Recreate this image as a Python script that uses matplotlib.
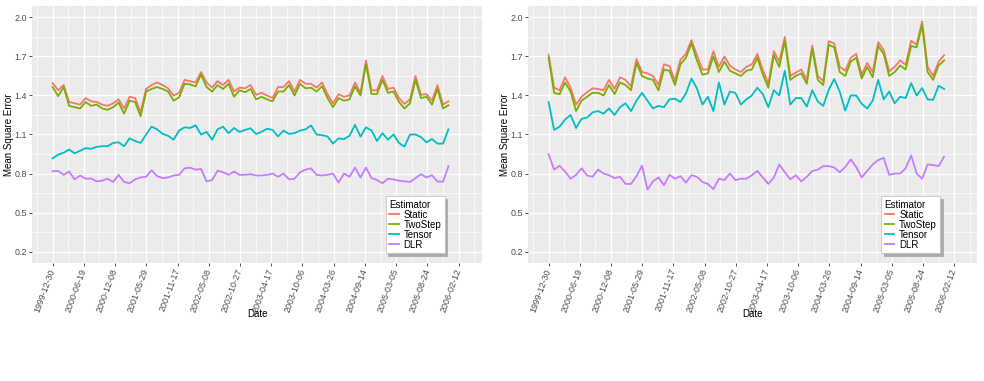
import numpy as np
import pandas as pd
import matplotlib
matplotlib.use("Agg")
import matplotlib.pyplot as plt

plt.rcParams['font.family'] = ['Liberation Sans', 'DejaVu Sans']

# ---------------- data ----------------
dates = pd.date_range("1999-12-30", "2005-12-18", periods=73)

tick_labels = ["1999-12-30", "2000-06-19", "2000-12-08", "2001-05-29", "2001-11-17",
               "2002-05-08", "2002-10-27", "2003-04-17", "2003-10-06", "2004-03-26",
               "2004-09-14", "2005-03-05", "2005-08-24", "2006-02-12"]
y_ticks = [0.2, 0.5, 0.8, 1.1, 1.4, 1.7, 2.0]

series_names = ["Static", "TwoStep", "Tensor", "DLR"]
series_colors = ["#F8766D", "#7CAE00", "#00BFC4", "#C77CFF"]

left_static = [1.495, 1.44, 1.48, 1.35, 1.34, 1.33, 1.38, 1.355, 1.35, 1.33, 1.32, 1.34, 1.37, 1.30, 1.39, 1.38, 1.27, 1.45, 1.48,
               1.50, 1.48, 1.455, 1.40, 1.42, 1.52, 1.51, 1.50, 1.58, 1.50, 1.46, 1.51, 1.48, 1.52, 1.43, 1.46, 1.455,
               1.48, 1.405, 1.42, 1.40, 1.38, 1.465, 1.465, 1.51, 1.43, 1.52, 1.49, 1.49, 1.46, 1.50, 1.41, 1.34, 1.41,
               1.39, 1.40, 1.50, 1.42, 1.67, 1.44, 1.44, 1.55, 1.45, 1.46, 1.38, 1.335, 1.37, 1.55, 1.405, 1.41, 1.36,
               1.48, 1.33, 1.355]
left_twostep = [1.465, 1.395, 1.465, 1.32, 1.31, 1.30, 1.35, 1.32, 1.33, 1.30, 1.29, 1.31, 1.345, 1.26, 1.36, 1.35, 1.24, 1.43, 1.45,
                1.465, 1.45, 1.43, 1.36, 1.385, 1.49, 1.485, 1.47, 1.56, 1.465, 1.43, 1.48, 1.45, 1.49, 1.39, 1.44, 1.425,
                1.45, 1.37, 1.39, 1.37, 1.355, 1.43, 1.43, 1.48, 1.40, 1.49, 1.455, 1.46, 1.43, 1.47, 1.38, 1.31, 1.38,
                1.36, 1.37, 1.47, 1.40, 1.64, 1.41, 1.41, 1.52, 1.42, 1.43, 1.35, 1.30, 1.34, 1.52, 1.38, 1.39, 1.33,
                1.45, 1.30, 1.325]
left_tensor = [0.917, 0.945, 0.96, 0.985, 0.955, 0.975, 0.995, 0.99, 1.005, 1.01, 1.01, 1.035, 1.04, 1.01, 1.07, 1.05, 1.035,
               1.10, 1.16, 1.14, 1.105, 1.09, 1.06, 1.13, 1.155, 1.15, 1.17, 1.10, 1.12, 1.06, 1.14, 1.16, 1.11, 1.15, 1.12,
               1.135, 1.148, 1.104, 1.12, 1.145, 1.135, 1.085, 1.13, 1.105, 1.11, 1.13, 1.14, 1.17, 1.10, 1.095, 1.085,
               1.03, 1.07, 1.065, 1.09, 1.174, 1.084, 1.156, 1.13, 1.05, 1.11, 1.06, 1.10, 1.035, 1.007, 1.10, 1.10,
               1.08, 1.04, 1.065, 1.03, 1.03, 1.14]
left_dlr = [0.818, 0.82, 0.79, 0.815, 0.755, 0.785, 0.76, 0.762, 0.74, 0.745, 0.76, 0.735, 0.79, 0.735, 0.725, 0.755, 0.77,
            0.775, 0.825, 0.78, 0.765, 0.77, 0.785, 0.79, 0.84, 0.845, 0.83, 0.835, 0.74, 0.75, 0.822, 0.81, 0.79, 0.815,
            0.79, 0.79, 0.795, 0.785, 0.785, 0.79, 0.80, 0.775, 0.80, 0.755, 0.76, 0.81, 0.83, 0.84, 0.79, 0.785, 0.79,
            0.80, 0.73, 0.80, 0.775, 0.846, 0.77, 0.846, 0.765, 0.75, 0.725, 0.76, 0.755, 0.745, 0.74, 0.735, 0.765,
            0.795, 0.77, 0.787, 0.738, 0.738, 0.856]

right_static = [1.714, 1.46, 1.44, 1.54, 1.46, 1.33, 1.39, 1.425, 1.455, 1.45, 1.44, 1.52, 1.45, 1.54, 1.52, 1.47, 1.68,
                1.58, 1.57, 1.55, 1.48, 1.64, 1.625, 1.515, 1.675, 1.72, 1.825, 1.71, 1.60, 1.60, 1.74, 1.62, 1.70, 1.63,
                1.60, 1.58, 1.62, 1.64, 1.72, 1.595, 1.49, 1.74, 1.66, 1.85, 1.55, 1.575, 1.60, 1.52, 1.784, 1.55, 1.51,
                1.817, 1.80, 1.62, 1.59, 1.69, 1.72, 1.56, 1.65, 1.58, 1.81, 1.75, 1.585, 1.62, 1.67, 1.636, 1.82, 1.79,
                1.97, 1.62, 1.55, 1.66, 1.71]
right_twostep = [1.69, 1.42, 1.41, 1.50, 1.43, 1.28, 1.36, 1.39, 1.42, 1.42, 1.40, 1.48, 1.41, 1.50, 1.48, 1.44, 1.65,
                 1.55, 1.53, 1.52, 1.44, 1.60, 1.59, 1.48, 1.64, 1.69, 1.80, 1.67, 1.56, 1.57, 1.70, 1.58, 1.66, 1.59,
                 1.57, 1.55, 1.59, 1.60, 1.69, 1.56, 1.46, 1.71, 1.62, 1.82, 1.52, 1.55, 1.57, 1.49, 1.76, 1.52, 1.48,
                 1.79, 1.77, 1.58, 1.55, 1.66, 1.69, 1.53, 1.62, 1.54, 1.78, 1.72, 1.55, 1.58, 1.63, 1.60, 1.78, 1.77,
                 1.94, 1.58, 1.52, 1.63, 1.67]
right_tensor = [1.349, 1.135, 1.16, 1.215, 1.25, 1.15, 1.22, 1.23, 1.27, 1.28, 1.26, 1.30, 1.25, 1.31, 1.34, 1.28, 1.36,
                1.42, 1.36, 1.30, 1.32, 1.31, 1.37, 1.375, 1.35, 1.415, 1.53, 1.455, 1.33, 1.39, 1.28, 1.50, 1.33, 1.43,
                1.42, 1.33, 1.37, 1.40, 1.46, 1.41, 1.31, 1.44, 1.40, 1.59, 1.33, 1.38, 1.38, 1.315, 1.44, 1.354, 1.32,
                1.444, 1.526, 1.43, 1.284, 1.40, 1.40, 1.336, 1.30, 1.36, 1.52, 1.37, 1.43, 1.34, 1.39, 1.38, 1.495, 1.40,
                1.457, 1.37, 1.366, 1.475, 1.45]
right_dlr = [0.949, 0.83, 0.86, 0.815, 0.76, 0.79, 0.84, 0.785, 0.775, 0.83, 0.80, 0.787, 0.765, 0.775, 0.72, 0.72, 0.78,
             0.86, 0.677, 0.74, 0.77, 0.71, 0.79, 0.76, 0.78, 0.73, 0.787, 0.775, 0.735, 0.72, 0.68, 0.76, 0.75, 0.80,
             0.75, 0.76, 0.76, 0.787, 0.82, 0.77, 0.72, 0.77, 0.87, 0.81, 0.755, 0.787, 0.74, 0.775, 0.82, 0.83, 0.857,
             0.857, 0.846, 0.81, 0.85, 0.908, 0.85, 0.77, 0.82, 0.87, 0.903, 0.92, 0.79, 0.80, 0.80, 0.84, 0.94, 0.80,
             0.76, 0.87, 0.865, 0.857, 0.93]

panels = [
    [left_static, left_twostep, left_tensor, left_dlr],
    [right_static, right_twostep, right_tensor, right_dlr],
]

# ---------------- figure ----------------
W, H = 984, 381
fig = plt.figure(figsize=(W / 100, H / 100), dpi=100)

axes_rects = [
    [32.3 / W, (H - 263.3) / H, 449.4 / W, 257.6 / H],
    [528.3 / W, (H - 263.3) / H, 449.0 / W, 257.6 / H],
]

tick_dates = pd.to_datetime(tick_labels)
xmin = pd.Timestamp("1999-12-30") - pd.Timedelta(days=112)
xmax = pd.Timestamp("2006-02-12") + pd.Timedelta(days=127)

for rect, vals in zip(axes_rects, panels):
    ax = fig.add_axes(rect)
    ax.set_facecolor("#EBEBEB")
    for s in ax.spines.values():
        s.set_visible(False)

    for name, col, v in zip(series_names, series_colors, vals):
        ax.plot(dates, v, color=col, lw=1.3, label=name, solid_joinstyle="round")

    ax.set_xlim(xmin, xmax)
    ax.set_ylim(0.11, 2.09)
    ax.set_xticks(tick_dates)
    ax.set_xticklabels(tick_labels, rotation=70, ha="right", va="center",
                       rotation_mode="anchor")
    minor_x = tick_dates[:-1] + (tick_dates[1:] - tick_dates[:-1]) / 2
    minor_x = list(minor_x) + [tick_dates[0] - pd.Timedelta(days=86),
                               tick_dates[-1] + pd.Timedelta(days=86)]
    ax.set_xticks(minor_x, minor=True)
    ax.set_yticks(y_ticks)
    ax.set_yticklabels([f"{t:.1f}" for t in y_ticks])
    ax.set_yticks([0.35, 0.65, 0.95, 1.25, 1.55, 1.85], minor=True)

    ax.grid(which="major", color="white", lw=0.9)
    ax.grid(which="minor", color="white", lw=0.45)
    ax.set_axisbelow(True)

    ax.tick_params(which="major", length=2.5, width=0.6, color="#333333",
                   labelsize=6.4, labelcolor="#4D4D4D", pad=1.5)
    ax.tick_params(which="minor", length=0)

    ax.set_xlabel("Date", fontsize=7, color="black")
    ax.xaxis.set_label_coords(0.5, -0.178)
    ax.set_ylabel("Mean Square Error", fontsize=7, color="black")
    ax.yaxis.set_label_coords(-0.040, 0.5)

    leg = ax.legend(title="Estimator", loc="lower left",
                    bbox_to_anchor=(0.786, 0.04), fontsize=7, title_fontsize=7,
                    frameon=True, fancybox=False,
                    shadow={"color": "#9A9A9A", "alpha": 0.8},
                    handlelength=1.0, handletextpad=0.5, labelspacing=0.0,
                    borderpad=0.35, borderaxespad=0.0)
    leg._legend_box.align = "left"
    frame = leg.get_frame()
    frame.set_facecolor("white")
    frame.set_edgecolor("#BBBBBB")
    frame.set_linewidth(0.5)
    frame.set_alpha(1.0)

fig.savefig("out.png", dpi=100)
